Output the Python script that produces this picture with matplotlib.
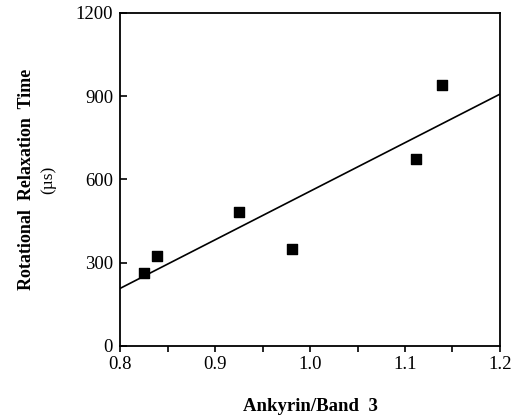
import numpy as np
import matplotlib
matplotlib.use("Agg")
import matplotlib.pyplot as plt
from matplotlib.ticker import MultipleLocator

# ankyrin/band 3 ratio vs rotational relaxation time (us)
ratio = [0.825, 0.839, 0.925, 0.981, 1.112, 1.139]
relax_time = [262, 324, 483, 348, 673, 942]

x_ticks = [0.8, 0.9, 1.0, 1.1, 1.2]
y_ticks = [0, 300, 600, 900, 1200]

plt.rcParams["font.family"] = ["Liberation Serif", "DejaVu Serif"]

fig = plt.figure(figsize=(5.16, 4.18), dpi=100)
ax = fig.add_axes([120 / 516, 1 - 346 / 418, 380 / 516, 333 / 418])

ax.scatter(ratio, relax_time, marker="s", s=45, color="black", zorder=3)

# least-squares line across the full x range
slope, intercept = np.polyfit(ratio, relax_time, 1)
xs = np.array([x_ticks[0], x_ticks[-1]])
ax.plot(xs, slope * xs + intercept, color="black", lw=1.2)

ax.set_xlim(x_ticks[0], x_ticks[-1])
ax.set_ylim(y_ticks[0], y_ticks[-1])
ax.set_xticks(x_ticks)
ax.set_xticklabels([f"{v:.1f}" for v in x_ticks])
ax.xaxis.set_minor_locator(MultipleLocator(0.05))
ax.set_yticks(y_ticks)

for s in ax.spines.values():
    s.set_linewidth(1.3)

ax.tick_params(axis="x", which="both", direction="out", length=4, width=1.2,
               labelsize=13.5, pad=3)
ax.tick_params(axis="y", direction="in", length=5, width=1.2, labelsize=13.5,
               pad=5)

ax.set_xlabel("Ankyrin/Band  3", fontsize=13.5, fontweight="bold", labelpad=18)

ax.text(-0.245, 0.5, "Rotational  Relaxation  Time", transform=ax.transAxes,
        rotation=90, ha="center", va="center", fontsize=13, fontweight="bold")
ax.text(-0.19, 0.5, "(\u00b5s)", transform=ax.transAxes,
        rotation=90, ha="center", va="center", fontsize=12.5)

fig.savefig("out.png", dpi=100)
